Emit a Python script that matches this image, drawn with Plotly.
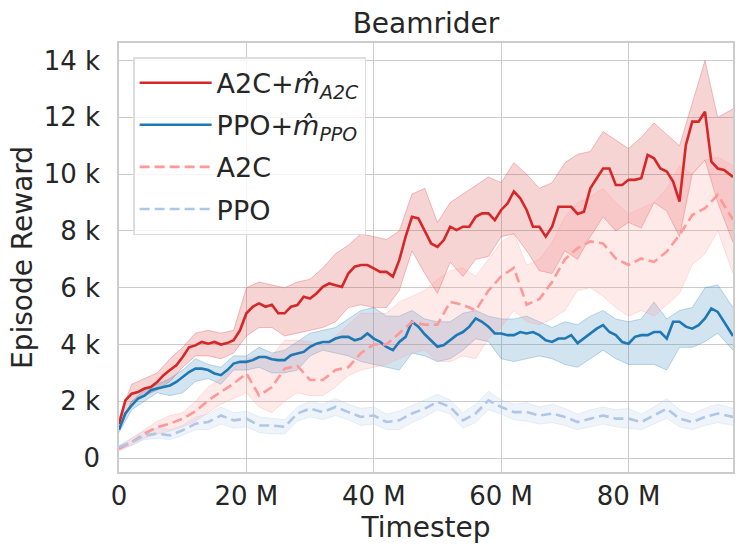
import plotly.graph_objects as go
import numpy as np

# timesteps in millions: bands sampled every 2M, solid curves every 1M
timestep_m = [0, 2, 4, 6, 8, 10, 12, 14, 16, 18, 20, 22, 24, 26, 28, 30, 32, 34, 36, 38,
              40, 42, 44, 46, 48, 50, 52, 54, 56, 58, 60, 62, 64, 66, 68, 70, 72, 74, 76, 78,
              80, 82, 84, 86, 88, 90, 92, 94, 96.4]
timestep_fine_m = list(range(96)) + [96.4]

# episode reward in thousands
a2c_m_mean = [1.2, 2.03, 2.27, 2.33, 2.45, 2.5, 2.68, 2.92, 3.1, 3.27,
              3.56, 3.9, 3.97, 4.09, 4.03, 4.09, 4.0, 4.05, 4.15, 4.5,
              5.1, 5.33, 5.45, 5.33, 5.4, 5.1, 5.1, 5.33, 5.39, 5.68,
              5.62, 5.8, 6.03, 6.15, 6.09, 6.03, 6.5, 6.74, 6.8, 6.8,
              6.68, 6.56, 6.56, 6.39, 6.97, 7.8, 8.5, 8.44, 8.0, 7.56,
              7.44, 7.68, 8.15, 8.03, 8.15, 8.15, 8.5, 8.62, 8.62, 8.38,
              8.74, 8.97, 9.39, 9.15, 8.74, 8.15, 8.15, 7.8, 8.15, 8.85,
              8.85, 8.85, 8.6, 8.68, 9.5, 9.86, 10.2, 10.2, 9.62, 9.62,
              9.8, 9.8, 9.86, 10.68, 10.56, 10.2, 10.09, 9.74, 9.03, 11.03,
              11.85, 11.85, 12.2, 10.44, 10.2, 10.15, 9.9]
a2c_m_hi = [1.4, 2.6, 2.8, 3.0, 3.5, 3.9, 4.4, 4.5, 4.4, 4.5, 6.0, 6.2, 6.1, 6.0, 6.2, 6.3, 6.7,
            7.2, 7.5, 7.9, 7.8, 7.7, 8.0, 9.3, 9.5, 8.3, 9.0, 9.3, 9.6, 9.9, 9.7, 10.4, 10.0, 9.5,
            9.7, 10.4, 10.7, 10.8, 11.5, 11.2, 10.9, 11.3, 11.8, 11.4, 11.0, 12.5, 14.0, 12.0, 12.3]
a2c_m_lo = [1.0, 2.0, 2.2, 2.4, 2.7, 3.2, 3.6, 3.6, 3.5, 3.7, 4.3, 4.6, 4.6, 4.3, 4.4, 4.5, 4.6,
            4.8, 5.3, 5.4, 5.3, 5.3, 5.9, 7.3, 6.5, 5.8, 6.9, 6.4, 7.0, 7.1, 7.8, 7.9, 7.3, 6.6,
            6.5, 7.3, 7.0, 7.8, 8.5, 8.0, 8.3, 8.1, 9.0, 8.7, 7.8, 10.0, 10.5, 9.0, 7.6]

ppo_m_mean = [1.0, 1.57, 1.86, 2.1, 2.2, 2.39, 2.45, 2.5, 2.56, 2.68,
              2.86, 3.03, 3.15, 3.15, 3.1, 2.98, 2.92, 3.1, 3.33, 3.39,
              3.39, 3.45, 3.56, 3.56, 3.48, 3.45, 3.45, 3.62, 3.68, 3.74,
              3.92, 4.03, 4.09, 4.09, 4.21, 4.27, 4.27, 4.15, 4.21, 4.39,
              4.21, 4.09, 3.92, 3.8, 4.09, 4.27, 4.8, 4.63, 4.36, 4.15,
              3.92, 3.98, 4.15, 4.33, 4.44, 4.63, 4.92, 4.8, 4.63, 4.39,
              4.39, 4.33, 4.33, 4.44, 4.39, 4.44, 4.33, 4.15, 4.09, 4.21,
              4.21, 4.33, 4.05, 4.21, 4.39, 4.56, 4.68, 4.44, 4.33, 4.09,
              4.03, 4.27, 4.33, 4.33, 4.44, 4.44, 4.21, 4.8, 4.8, 4.63,
              4.56, 4.68, 4.92, 5.27, 5.15, 4.8, 4.3]
ppo_m_hi = [1.1, 2.0, 2.4, 2.6, 2.8, 3.1, 3.5, 3.3, 3.2, 3.6, 3.6, 3.9, 3.7, 3.8, 4.1, 4.4, 4.5,
            4.6, 4.9, 5.2, 5.3, 5.0, 5.0, 5.2, 4.9, 4.8, 4.8, 5.1, 5.2, 5.0, 4.9, 4.9, 5.0, 4.8,
            4.6, 4.8, 4.7, 5.0, 5.2, 4.9, 4.8, 4.9, 5.5, 4.9, 5.2, 5.3, 6.0, 6.1, 5.3]
ppo_m_lo = [0.9, 1.7, 2.0, 2.3, 2.2, 2.3, 2.7, 2.8, 2.6, 3.1, 3.1, 3.2, 3.0, 3.0, 3.1, 3.6, 3.8,
            3.7, 3.6, 3.4, 3.3, 3.2, 3.1, 3.7, 3.6, 3.4, 3.5, 3.8, 4.2, 4.1, 3.5, 3.4, 3.5, 3.6,
            3.5, 3.3, 3.2, 3.5, 3.8, 3.5, 3.3, 3.3, 3.3, 3.1, 3.9, 3.9, 4.1, 4.4, 3.8]

a2c_mean = [0.33, 0.56, 0.86, 1.09, 1.21, 1.39, 1.65, 2.03, 2.33, 2.62, 2.98, 2.2, 2.5, 3.15,
            3.25, 2.75, 2.75, 3.1, 3.2, 3.7, 4.0, 4.0, 4.4, 4.8, 4.7, 4.7, 5.5, 5.4,
            5.2, 5.9, 6.4, 6.7, 5.4, 5.6, 6.2, 7.0, 7.4, 7.63, 7.56, 7.03, 6.8, 7.03,
            6.91, 7.27, 7.86, 8.56, 8.8, 9.27, 8.4]
a2c_hi = [0.4, 0.7, 1.0, 1.3, 1.5, 1.6, 2.0, 2.5, 2.8, 3.2, 3.5, 3.6, 3.6, 4.15, 4.15, 4.1, 3.95,
          4.3, 4.7, 5.1, 5.1, 5.1, 5.5, 5.7, 5.9, 6.3, 6.6, 6.7, 6.4, 7.0, 7.6, 7.9, 6.8, 7.0,
          7.6, 8.5, 9.0, 9.2, 9.5, 9.0, 8.6, 8.8, 9.0, 9.5, 10.3, 10.0, 10.5, 10.6, 10.3]
a2c_lo = [0.25, 0.45, 0.7, 0.85, 0.95, 1.1, 1.3, 1.6, 1.9, 2.1, 2.3, 1.8, 1.6, 2.0, 2.3, 2.2,
          2.2, 2.5, 2.9, 3.1, 3.2, 3.3, 3.5, 3.7, 3.8, 3.4, 3.4, 3.6, 3.5, 4.2, 4.6, 5.2, 4.8,
          4.7, 4.9, 5.2, 5.9, 6.0, 5.7, 5.3, 5.0, 5.2, 5.0, 5.4, 5.8, 6.8, 7.2, 8.0, 6.5]

ppo_mean = [0.39, 0.56, 0.8, 0.86, 0.8, 0.98, 1.21, 1.27, 1.5, 1.33, 1.39, 1.15, 1.15, 1.1, 1.57,
            1.74, 1.62, 1.8, 1.62, 1.45, 1.5, 1.27, 1.33, 1.57, 1.74, 1.98, 1.8, 1.33, 1.57, 2.03,
            1.8, 1.62, 1.62, 1.5, 1.57, 1.45, 1.27, 1.39, 1.5, 1.39, 1.39, 1.27, 1.5, 1.74, 1.39,
            1.27, 1.45, 1.57, 1.45]
ppo_hi = [0.45, 0.7, 0.95, 1.05, 1.0, 1.15, 1.45, 1.55, 1.8, 1.6, 1.65, 1.45, 1.4, 1.35, 1.8,
          2.0, 1.9, 2.1, 1.9, 1.75, 1.8, 1.55, 1.65, 1.85, 2.05, 2.25, 2.05, 1.6, 1.9, 2.35,
          2.05, 1.9, 1.95, 1.8, 1.9, 1.75, 1.55, 1.7, 1.8, 1.7, 1.75, 1.55, 1.8, 2.1, 1.7, 1.55,
          1.75, 1.9, 1.75]
ppo_lo = [0.3, 0.45, 0.65, 0.7, 0.65, 0.8, 1.0, 1.0, 1.2, 1.05, 1.1, 0.9, 0.85, 0.85, 1.3,
          1.45, 1.35, 1.5, 1.35, 1.15, 1.2, 1.0, 1.0, 1.25, 1.45, 1.7, 1.55, 1.05, 1.25, 1.7,
          1.55, 1.35, 1.3, 1.2, 1.25, 1.15, 1.0, 1.1, 1.2, 1.1, 1.05, 1.0, 1.2, 1.4, 1.1, 1.0,
          1.15, 1.25, 1.15]

x_tick_vals = [0, 20, 40, 60, 80]
x_tick_text = ["0", "20 M", "40 M", "60 M", "80 M"]
y_tick_vals = [0, 2, 4, 6, 8, 10, 12, 14]
y_tick_text = ["0", "2 k", "4 k", "6 k", "8 k", "10 k", "12 k", "14 k"]

x = np.array(timestep_m) * 1e6
x_fine = np.array(timestep_fine_m) * 1e6

series = [
    ("A2C+<i>m\u0302</i><sub><i>A2C</i></sub>", x_fine, a2c_m_mean, a2c_m_lo, a2c_m_hi, (214, 39, 40), "solid"),
    ("PPO+<i>m\u0302</i><sub><i>PPO</i></sub>", x_fine, ppo_m_mean, ppo_m_lo, ppo_m_hi, (31, 119, 180), "solid"),
    ("A2C", x, a2c_mean, a2c_lo, a2c_hi, (255, 152, 150), "10px,5px"),
    ("PPO", x, ppo_mean, ppo_lo, ppo_hi, (174, 199, 232), "10px,5px"),
]

fig = go.Figure()

# shaded bands first
for name, xs, mean, lo, hi, c, dash in series:
    r, g, b = c
    fig.add_trace(go.Scatter(
        x=x, y=np.array(lo) * 1000, mode="lines",
        line=dict(color=f"rgba({r},{g},{b},0.35)", width=0.8),
        showlegend=False, hoverinfo="skip"))
    fig.add_trace(go.Scatter(
        x=x, y=np.array(hi) * 1000, mode="lines", fill="tonexty",
        fillcolor=f"rgba({r},{g},{b},0.2)",
        line=dict(color=f"rgba({r},{g},{b},0.35)", width=0.8),
        showlegend=False, hoverinfo="skip"))

# mean curves
for i, (name, xs, mean, lo, hi, c, dash) in enumerate(series):
    r, g, b = c
    fig.add_trace(go.Scatter(
        x=xs, y=np.array(mean) * 1000, mode="lines", name=name,
        legendgroup=f"g{i}",
        line=dict(color=f"rgb({r},{g},{b})", width=2.6, dash=dash)))

grid = "#cccccc"
txt = "#262626"
font = "DejaVu Sans"

fig.update_layout(
    width=747, height=560,
    margin=dict(l=119, r=12, t=43, b=88),
    paper_bgcolor="white", plot_bgcolor="white",
    font=dict(family=font, color=txt, size=26),
    title=dict(text="Beamrider", x=0.5, xref="paper", xanchor="center",
               y=1, yref="paper", yanchor="bottom",
               font=dict(size=28, family=font, color=txt), pad=dict(b=10)),
    legend=dict(x=0.023, y=0.967, xanchor="left", yanchor="top",
                bgcolor="rgba(255,255,255,0.8)", bordercolor="#dddddd", borderwidth=1.5,
                font=dict(size=27, family=font, color=txt), itemwidth=72,
                traceorder="grouped", tracegroupgap=4),
    xaxis=dict(
        range=[0, 96.4e6],
        tickvals=[v * 1e6 for v in x_tick_vals], ticktext=x_tick_text,
        showgrid=True, gridcolor=grid, gridwidth=1.3,
        zeroline=False, showline=True, linecolor=grid, linewidth=1.5, mirror=True,
        ticks="", ticklabelstandoff=0,
        title=dict(text="Timestep", font=dict(size=28, family=font, color=txt), standoff=4),
    ),
    yaxis=dict(
        range=[-490, 14620],
        tickvals=[v * 1000 for v in y_tick_vals], ticktext=y_tick_text,
        showgrid=True, gridcolor=grid, gridwidth=1.3,
        zeroline=False, showline=True, linecolor=grid, linewidth=1.5, mirror=True,
        ticks="", ticklabelstandoff=12,
        title=dict(text="Episode Reward", font=dict(size=28, family=font, color=txt), standoff=3),
    ),
)

fig.write_html("out.html", config={"displayModeBar": False},
               post_script="document.body.style.margin='0px';")
